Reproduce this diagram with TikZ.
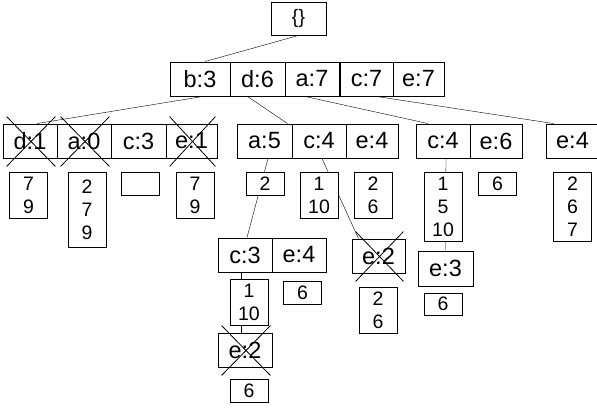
\documentclass[tikz,border=0pt]{standalone}
\usepackage{fontspec}
\setmainfont{Liberation Sans}
\usepackage{tikz}
\usetikzlibrary{backgrounds}
\tikzset{cell/.style = {draw, fill = white, line width = 0.9pt, inner sep = 0, minimum width = #1, minimum height = 34, font = \fontsize{23.5}{28}\selectfont}}
\tikzset{lst/.style = {draw, fill = white, line width = 0.9pt, inner sep = 0, minimum width = 38, align = center, font = \fontsize{19.5}{23}\selectfont}}
\newcommand{\crossbox}[1]{%
  \draw ([xshift = 4, yshift = 7]#1.north west) -- ([xshift = -2, yshift = -8]#1.south east);
  \draw ([xshift = -2, yshift = 7]#1.north east) -- ([xshift = 4, yshift = -8]#1.south west);}

\begin{document}
\begin{tikzpicture}[x = 1pt, y = -1pt, line width = 0.8pt]
      \useasboundingbox (0, 0) rectangle (597, 410);
      \node [cell = 55, minimum height = 33, font = \fontsize{19.5}{23}\selectfont] (root) at (298.5, 18.5) {\{\}};
      % second level
      \node [cell = 60] (b3) at (200, 79) {b:3};
      \node [cell = 55] (d6) at (257.5, 79) {d:6};
      \node [cell = 54] (a7) at (312, 79) {a:7};
      \node [cell = 53] (c7) at (366.5, 79) {c:7};
      \node [cell = 51] (e7) at (418.5, 79) {e:7};
      % third level
      \node [cell = 54] (d1) at (30, 141) {d:1};
      \node [cell = 54] (a0) at (84, 141) {a:0};
      \node [cell = 55] (c3) at (138.5, 141) {c:3};
      \node [cell = 51] (e1) at (191.5, 141) {e:1};
      \node [cell = 55] (a5) at (264.5, 141) {a:5};
      \node [cell = 54] (c4) at (319, 141) {c:4};
      \node [cell = 52] (e4) at (372, 141) {e:4};
      \node [cell = 54] (cc4) at (443, 141) {c:4};
      \node [cell = 52] (e6) at (496, 141) {e:6};
      \node [cell = 53] (ee4) at (572.5, 141) {e:4};
      \node [lst, minimum height = 46] (l79) at (28.5, 195) {7\\9};
      \node [lst, minimum height = 75] (l279) at (87, 209.5) {2\\7\\9};
      \node [lst, minimum height = 23] (lnone) at (140.5, 183.5) {};
      \node [lst, minimum height = 46] (l79b) at (195, 195) {7\\9};
      \node [lst, minimum height = 23] (l2) at (265, 183.5) {2};
      \node [lst, minimum height = 46] (l110) at (319, 195) {1\\10};
      \node [lst, minimum height = 46] (l26) at (373, 195) {2\\6};
      \node [lst, minimum height = 69] (l1510) at (443, 206.5) {1\\5\\10};
      \node [lst, minimum height = 23] (l6) at (497.5, 183.5) {6};
      \node [lst, minimum height = 69] (l267) at (572.5, 206.5) {2\\6\\7};
      % fourth level
      \node [cell = 54] (c3b) at (245, 255) {c:3};
      \node [cell = 54] (e4b) at (299, 255) {e:4};
      \node [cell = 53] (e2) at (378.5, 256) {e:2};
      \node [cell = 55, minimum height = 35] (e3) at (445.5, 268.5) {e:3};
      \node [lst, minimum height = 46] (l110b) at (249, 302) {1\\10};
      \node [lst, minimum height = 23] (l6b) at (302.5, 292.5) {6};
      \node [lst, minimum height = 46] (l26b) at (378, 310) {2\\6};
      \node [lst, minimum height = 22] (l6c) at (443, 304) {6};
      % fifth level
      \node [cell = 54] (e2b) at (245, 350) {e:2};
      \node [lst, minimum height = 23] (l6d) at (249, 390.5) {6};
      \crossbox{d1}
      \crossbox{a0}
      \crossbox{e1}
      \crossbox{e2}
      \crossbox{e2b}
      \begin{scope}[on background layer]
        \draw (root.south) -- ([xshift = 5]b3.north);
        \draw ([xshift = 3]b3.south) -- ([xshift = 7]d1.north);
        \draw ([xshift = -10]d6.south) -- ([xshift = 23]a5.north);
        \draw ([xshift = -7]a7.south) -- ([xshift = -15]cc4.north);
        \draw ([xshift = 10]c7.south) -- ([xshift = -19]ee4.north);
        \draw ([xshift = 3.5]a5.south) -- ([xshift = 2]c3b.north);
        \draw ([xshift = 3]c4.south) -- ([xshift = -20]e2.north);
        \draw ([xshift = 3]cc4.south) -- (e3.north);
        \draw ([xshift = -4]c3b.south) -- ([xshift = -4]e2b.north);
      \end{scope}
    \end{tikzpicture}
\end{document}
